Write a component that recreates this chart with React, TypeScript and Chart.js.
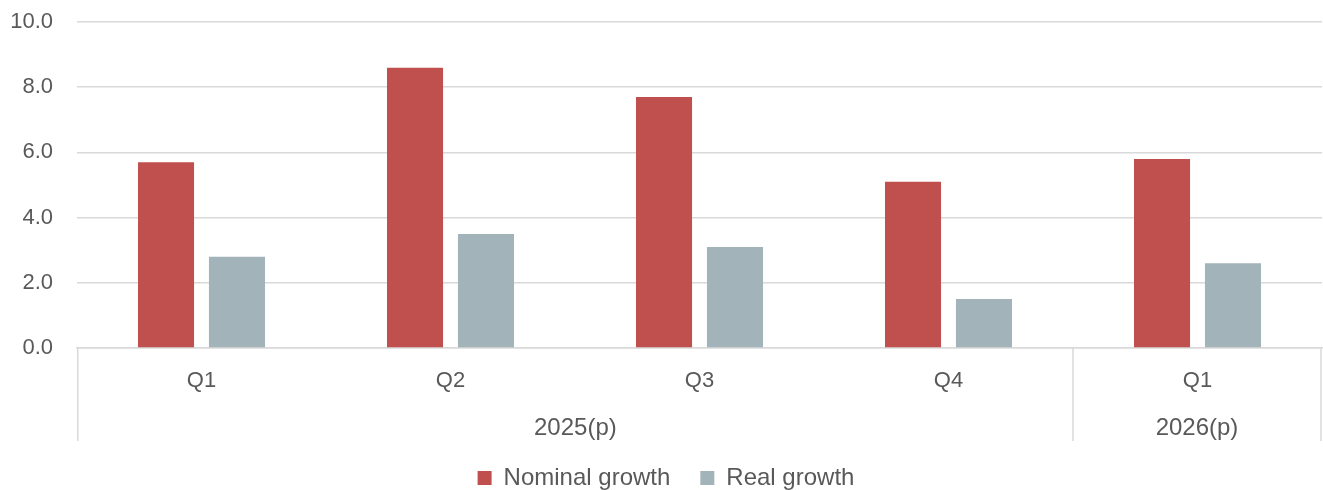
import React, { useEffect, useRef } from "react";
import { Chart, registerables } from "chart.js";

Chart.register(...registerables);

const categories = ["Q1", "Q2", "Q3", "Q4", "Q1"];
const groupLabels = ["2025(p)", "2026(p)"];
const groupSizes = [4, 1];
const nominalGrowth = [5.7, 8.6, 7.7, 5.1, 5.8];
const realGrowth = [2.8, 3.5, 3.1, 1.5, 2.6];
const yMin = 0;
const yMax = 10;
const yStep = 2;

const FONT = "'Liberation Sans', Arial, sans-serif";
const TEXT = "#595959";
const GRID = "#D9D9D9";
const SEP_H = 93;

const groupPlugin = {
  id: "groupAxis",
  afterDraw(chart: any) {
    const xs = chart.scales.x;
    const area = chart.chartArea;
    const ctx = chart.ctx;
    const n = categories.length;
    ctx.save();
    ctx.strokeStyle = GRID;
    ctx.lineWidth = 1.5;
    ctx.fillStyle = TEXT;
    ctx.font = `24px ${FONT}`;
    ctx.textAlign = "center";
    ctx.textBaseline = "middle";
    let start = 0;
    const edge = (i: number) => {
      if (i <= 0) return xs.left + 0.75;
      if (i >= n) return xs.right - 1;
      return (xs.getPixelForValue(i - 1) + xs.getPixelForValue(i)) / 2;
    };
    groupSizes.forEach((size, g) => {
      const l = edge(start);
      const r = edge(start + size);
      ctx.beginPath();
      ctx.moveTo(l, area.bottom);
      ctx.lineTo(l, area.bottom + SEP_H);
      ctx.stroke();
      if (start + size >= n) {
        ctx.beginPath();
        ctx.moveTo(r, area.bottom);
        ctx.lineTo(r, area.bottom + SEP_H);
        ctx.stroke();
      }
      ctx.fillText(groupLabels[g], (l + r) / 2, area.bottom + 80);
      start += size;
    });
    ctx.restore();
  },
};

export default function App() {
  const ref = useRef<HTMLCanvasElement>(null);
  useEffect(() => {
    if (!ref.current) return;
    const chart = new Chart(ref.current, {
      type: "bar",
      data: {
        labels: categories,
        datasets: [
          {
            label: "Nominal growth",
            data: nominalGrowth,
            backgroundColor: "#C0504D",
            categoryPercentage: 0.57,
            barPercentage: 0.79,
          },
          {
            label: "Real growth",
            data: realGrowth,
            backgroundColor: "#A2B4BA",
            categoryPercentage: 0.57,
            barPercentage: 0.79,
          },
        ],
      },
      options: {
        animation: false,
        responsive: false,
        maintainAspectRatio: false,
        layout: { padding: { top: 22, left: 10, right: 1, bottom: -10 } },
        plugins: {
          tooltip: { enabled: false },
          legend: {
            position: "bottom",
            labels: {
              color: TEXT,
              font: { family: FONT, size: 24 },
              boxWidth: 14,
              boxHeight: 14,
              padding: 30,
            },
          },
        },
        scales: {
          x: {
            grid: { display: false, drawTicks: false },
            border: { display: true, color: GRID, width: 1.5 },
            ticks: {
              color: TEXT,
              font: { family: FONT, size: 22 },
              padding: 20,
              maxRotation: 0,
            },
            afterFit: (scale: any) => {
              scale.height = 88;
            },
          },
          y: {
            min: yMin,
            max: yMax,
            ticks: {
              stepSize: yStep,
              color: TEXT,
              font: { family: FONT, size: 22 },
              padding: 24,
              callback: (v: any) => Number(v).toFixed(1),
            },
            grid: { color: GRID, lineWidth: 1.5, drawTicks: false },
            border: { display: false },
            afterFit: (scale: any) => {
              scale.width = 67;
              scale.paddingTop = 0;
              scale.paddingBottom = 0;
            },
          },
        },
      },
      plugins: [groupPlugin],
    });
    return () => chart.destroy();
  }, []);
  return (
    <div style={{ position: "absolute", left: 0, top: 0, width: 1323, height: 490, background: "#fff" }}>
      <canvas ref={ref} width={1323} height={490} style={{ width: 1323, height: 490 }} />
    </div>
  );
}
